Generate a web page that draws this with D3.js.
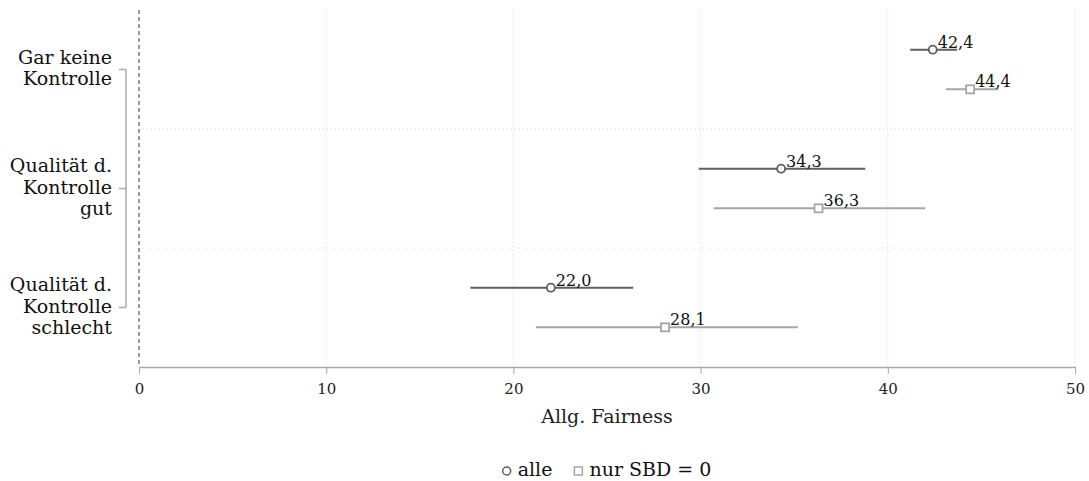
<!DOCTYPE html>
<html>
<head>
<meta charset="utf-8">
<script src="https://cdn.jsdelivr.net/npm/d3@7"></script>
<style>
  body { margin: 0; background: #fff; }
  svg { display: block; font-family: Georgia, "DejaVu Serif", "Liberation Serif", serif; }
</style>
</head>
<body>
<div id="chart"></div>
<script>
// categories (top to bottom), with line breaks
const categories = [
  ['Gar keine', 'Kontrolle'],
  ['Qualität d.', 'Kontrolle', 'gut'],
  ['Qualität d.', 'Kontrolle', 'schlecht']
];
const seriesNames = ['alle', 'nur SBD = 0'];

// point estimates and confidence intervals per category
const alleMean = [42.4, 34.3, 22.0];
const alleLow  = [41.2, 29.9, 17.7];
const alleHigh = [43.7, 38.8, 26.4];

const sbdMean = [44.4, 36.3, 28.1];
const sbdLow  = [43.1, 30.7, 21.2];
const sbdHigh = [45.9, 42.0, 35.2];

const xTicks = [0, 10, 20, 30, 40, 50];

const width = 1089, height = 481;
const margin = { top: 10, right: 14, bottom: 114, left: 139 };

const svg = d3.select('#chart').append('svg')
  .attr('width', width)
  .attr('height', height);

const x = d3.scaleLinear().domain([0, 50]).range([margin.left, width - margin.right]);
const yBand = d3.scaleBand().domain(d3.range(categories.length))
  .range([margin.top, height - margin.bottom]).padding(0);

// row offset inside each band: series 0 at 1/3, series 1 at 2/3
const rowY = (i, s) => yBand(i) + yBand.bandwidth() * (s + 1) / 3;

const series = [
  { name: seriesNames[0], mean: alleMean, low: alleLow, high: alleHigh, color: '#5f5f5f', shape: 'circle' },
  { name: seriesNames[1], mean: sbdMean, low: sbdLow, high: sbdHigh, color: '#a6a6a6', shape: 'square' }
];

// vertical grid
svg.append('g')
  .selectAll('line')
  .data(xTicks.filter(d => d > 0))
  .enter().append('line')
  .attr('x1', d => x(d)).attr('x2', d => x(d))
  .attr('y1', margin.top).attr('y2', height - margin.bottom)
  .attr('stroke', '#d4d4d4')
  .attr('stroke-width', 1)
  .attr('stroke-dasharray', '1,3');

// horizontal separators between groups
svg.append('g')
  .selectAll('line')
  .data(d3.range(1, categories.length))
  .enter().append('line')
  .attr('x1', margin.left).attr('x2', width - margin.right)
  .attr('y1', d => yBand(d)).attr('y2', d => yBand(d))
  .attr('stroke', '#d4d4d4')
  .attr('stroke-dasharray', '1,3');

// reference line at 0
svg.append('line')
  .attr('x1', x(0)).attr('x2', x(0))
  .attr('y1', margin.top).attr('y2', height - margin.bottom)
  .attr('stroke', '#666')
  .attr('stroke-width', 1.3)
  .attr('stroke-dasharray', '4,3');

// x axis
const xAxis = svg.append('g')
  .attr('transform', `translate(0,${height - margin.bottom})`)
  .call(d3.axisBottom(x).tickValues(xTicks).tickSize(7).tickSizeOuter(0).tickPadding(9));
xAxis.select('.domain').attr('stroke', '#aaa').attr('stroke-width', 1.6);
xAxis.selectAll('.tick line').attr('stroke', '#aaa');
xAxis.selectAll('.tick text')
  .attr('font-family', 'Georgia, "DejaVu Serif", serif')
  .attr('font-size', 15).attr('fill', '#222');

svg.append('text')
  .attr('x', (x(0) + x(50)) / 2)
  .attr('y', 423)
  .attr('text-anchor', 'middle')
  .attr('font-size', 19)
  .attr('fill', '#222')
  .text('Allg. Fairness');

// y axis as a bracket from first to last group center
const centers = d3.range(categories.length).map(i => yBand(i) + yBand.bandwidth() / 2);
const yAxisX = 126;
svg.append('line')
  .attr('x1', yAxisX).attr('x2', yAxisX)
  .attr('y1', centers[0]).attr('y2', centers[centers.length - 1])
  .attr('stroke', '#aaa').attr('stroke-width', 1.5);
svg.append('g').selectAll('line')
  .data(centers)
  .enter().append('line')
  .attr('x1', yAxisX - 7).attr('x2', yAxisX)
  .attr('y1', d => d).attr('y2', d => d)
  .attr('stroke', '#aaa').attr('stroke-width', 1.5);

const lineH = 21.5;
svg.append('g').selectAll('text')
  .data(categories)
  .enter().append('text')
  .attr('text-anchor', 'end')
  .attr('font-size', 19)
  .attr('fill', '#111')
  .each(function(lines, i) {
    const t = d3.select(this);
    const start = centers[i] - (lines.length - 1) * lineH / 2 + 5;
    lines.forEach((l, k) => {
      t.append('tspan').attr('x', 112).attr('y', start + k * lineH).text(l);
    });
  });

// error bars, markers, labels
series.forEach((s, si) => {
  const g = svg.append('g');
  const idx = d3.range(categories.length);

  g.selectAll('line')
    .data(idx)
    .enter().append('line')
    .attr('x1', i => x(s.low[i])).attr('x2', i => x(s.high[i]))
    .attr('y1', i => rowY(i, si)).attr('y2', i => rowY(i, si))
    .attr('stroke', s.color).attr('stroke-width', 2);

  if (s.shape === 'circle') {
    g.selectAll('circle')
      .data(idx)
      .enter().append('circle')
      .attr('cx', i => x(s.mean[i])).attr('cy', i => rowY(i, si))
      .attr('r', 4)
      .attr('fill', '#fff').attr('stroke', s.color).attr('stroke-width', 1.8);
  } else {
    g.selectAll('rect')
      .data(idx)
      .enter().append('rect')
      .attr('x', i => x(s.mean[i]) - 4).attr('y', i => rowY(i, si) - 4)
      .attr('width', 8).attr('height', 8)
      .attr('fill', '#fff').attr('stroke', s.color).attr('stroke-width', 1.8);
  }

  g.selectAll('text')
    .data(idx)
    .enter().append('text')
    .attr('x', i => x(s.mean[i]) + 5)
    .attr('y', i => rowY(i, si) - 2)
    .attr('font-size', 16)
    .attr('fill', '#111')
    .text(i => s.mean[i].toFixed(1).replace('.', ','));
});

// legend, centred under the plot
const legend = svg.append('g');
let lx = 0;
series.forEach(s => {
  if (s.shape === 'circle') {
    legend.append('circle').attr('cx', lx + 4).attr('cy', -5).attr('r', 4)
      .attr('fill', '#fff').attr('stroke', s.color).attr('stroke-width', 1.5);
  } else {
    legend.append('rect').attr('x', lx).attr('y', -9).attr('width', 8).attr('height', 8)
      .attr('fill', '#fff').attr('stroke', s.color).attr('stroke-width', 1.5);
  }
  const t = legend.append('text').attr('x', lx + 15).attr('y', 0)
    .attr('font-size', 19).attr('fill', '#111')
    .text(s.name);
  lx += 15 + t.node().getComputedTextLength() + 22;
});
const legendW = lx - 22;
legend.attr('transform', `translate(${(x(0) + x(50)) / 2 - legendW / 2},476)`);
</script>
</body>
</html>
